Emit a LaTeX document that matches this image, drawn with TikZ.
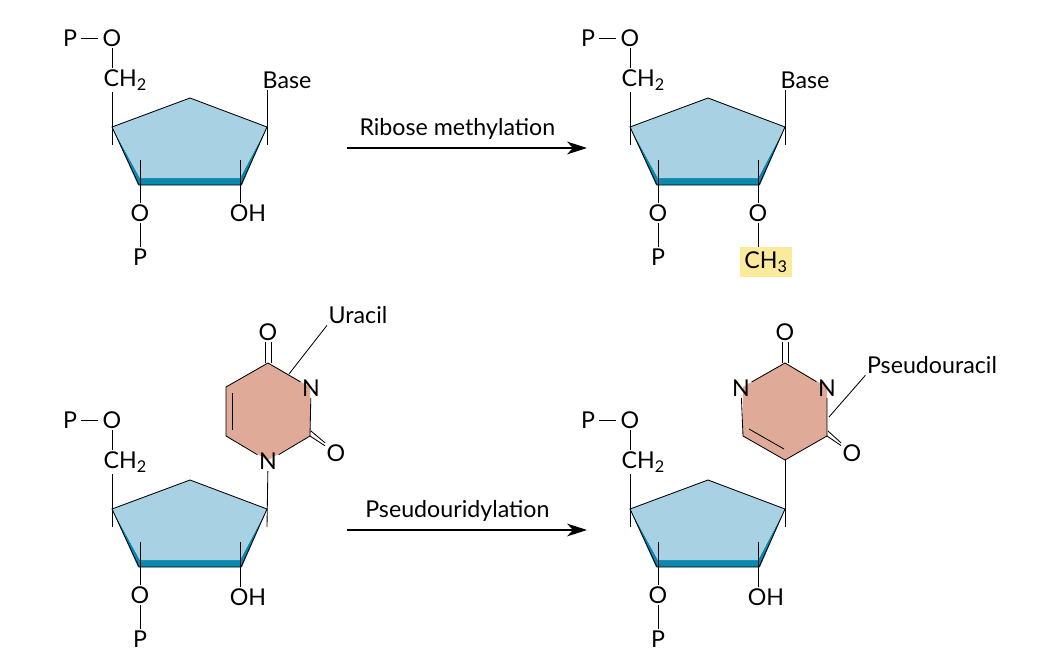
\documentclass[tikz,border=0pt]{standalone}
\usepackage{fontspec}
\setmainfont{Lato}
\usetikzlibrary{arrows.meta,positioning,calc}
\definecolor{sugarfill}{HTML}{A9D1E4}
\definecolor{sugardark}{HTML}{0A88AE}
\definecolor{basefill}{HTML}{DFAA97}
\definecolor{markyellow}{HTML}{FBEA9C}

\tikzset{
    atom/.style={inner sep=1pt, font=\fontsize{16.5}{19}\selectfont},
    bond/.style={line width=0.6pt},
    arr/.style={-{Stealth[length=5mm,width=3.2mm,inset=1.5mm]}, line width=0.8pt},
    pics/sugar/.style={code={
        % -------- Ring --------
        \fill[sugardark] (112,127) -- (140,178) -- (240,178) -- (267,127) -- (242,185) -- (138,185) -- cycle;
        \fill[sugarfill] (112,127) -- (190,98) -- (267,127) -- (240,178) -- (140,178) -- cycle;
        \draw[bond] (112,127) -- (190,98) -- (267,127) -- (241,185) -- (139,185) -- cycle;
        % -------- Substituents --------
        \node[atom] (-p5) at (70,38) {P};
        \node[atom] (-o5) at (112,38) {O};
        \node[atom, anchor=west] (-ch) at (102,80) {CH\textsubscript{2}};
        \node[atom] (-o3) at (140,213) {O};
        \node[atom] (-p3) at (140,257) {P};
        \coordinate (-c4) at (112,145);
        \coordinate (-c1) at (267,145);
        \coordinate (-c3) at (140,160);
        \coordinate (-c2) at (240,160);
        \draw[bond, shorten <=2pt, shorten >=2pt] (-p5) -- (-o5);
        \draw[bond] (-o5) -- (-o5 |- -ch.north);
        \draw[bond] (-ch.south -| -c4) -- (-c4);
        \draw[bond] (-c3) -- (-o3);
        \draw[bond] (-o3) -- (-p3);
    }}
}

\begin{document}
\begin{tikzpicture}[x=0.025cm, y=-0.025cm]
\useasboundingbox (0,0) rectangle (1050,663);

% -------- Sugars --------
\pic (s1) at (0,0) {sugar};
\pic (s2) at (518,0) {sugar};
\pic (s3) at (0,382) {sugar};
\pic (s4) at (518,382) {sugar};

% -------- Top row --------
\node[atom] (b1) at (287,80) {Base};
\draw[bond] (s1-c1) -- (b1.south -| s1-c1);
\node[atom] (oh1) at (248,213) {OH};
\draw[bond] (s1-c2) -- (s1-c2 |- oh1.north);

\node[atom] (b2) at (805,80) {Base};
\draw[bond] (s2-c1) -- (b2.south -| s2-c1);
\node[atom] (om) at (758,213) {O};
\node[atom, fill=markyellow, inner sep=3pt] (me) at (766,262) {CH\textsubscript{3}};
\draw[bond] (s2-c2) -- (om);
\draw[bond] (om) -- (om |- me.north);

\coordinate (a1) at (347,148);
\coordinate (a2) at (587,148);
\draw[arr] (a1) -- (a2);
\node[atom, above=5pt of $(a1)!0.46!(a2)$] (t1) {Ribose methylation};

% -------- Uracil --------
\fill[basefill] (268,363) -- (310,387) -- (310,436) -- (268,460) -- (226,436) -- (226,387) -- cycle;
\node[atom] (u3) at (311,388) {N};
\node[atom] (u1) at (268,461) {N};
\node[atom] (uo4) at (268,332) {O};
\node[atom] (uo2) at (336,453) {O};
\draw[bond] (u3) -- (268,363) -- (226,387) -- (226,436) -- (u1);
\draw[bond] (u3) -- (310,436) -- (u1);
\draw[bond] (232,393) -- (232,430);
\draw[bond] (265,363) -- (uo4.south -| 265,0);
\draw[bond] (271,363) -- (uo4.south -| 271,0);
\draw[bond] (310,436) -- (uo2);
\draw[bond] (311,431) -- (uo2.north west);
\draw[bond] (u1) -- (s3-c1);
\node[atom] (ul) at (358,315) {Uracil};
\draw[bond] (289,374) -- (ul.south west);

\node[atom] (oh3) at (248,597) {OH};
\draw[bond] (s3-c2) -- (s3-c2 |- oh3.north);

\coordinate (a3) at (347,530);
\coordinate (a4) at (587,530);
\draw[arr] (a3) -- (a4);
\node[atom, above=5pt of $(a3)!0.46!(a4)$] (t2) {Pseudouridylation};

% -------- Pseudouracil --------
\fill[basefill] (785,363) -- (827,387) -- (827,436) -- (785,460) -- (743,436) -- (743,387) -- cycle;
\node[atom] (p1) at (741,388) {N};
\node[atom] (p3) at (827,388) {N};
\node[atom] (po2) at (785,332) {O};
\node[atom] (po4) at (852,453) {O};
\draw[bond] (p1) -- (785,363) -- (p3);
\draw[bond] (p3) -- (827,436) -- (785,460) -- (743,436) -- (p1);
\draw[bond] (749,429) -- (784,449);
\draw[bond] (782,363) -- (po2.south -| 782,0);
\draw[bond] (788,363) -- (po2.south -| 788,0);
\draw[bond] (827,436) -- (po4);
\draw[bond] (828,431) -- (po4.north west);
\draw[bond] (785,460) -- (s4-c1);
\node[atom] (pl) at (932,365) {Pseudouracil};
\draw[bond] (829,417) -- (pl.south west);

\node[atom] (oh4) at (766,597) {OH};
\draw[bond] (s4-c2) -- (s4-c2 |- oh4.north);

\end{tikzpicture}
\end{document}
